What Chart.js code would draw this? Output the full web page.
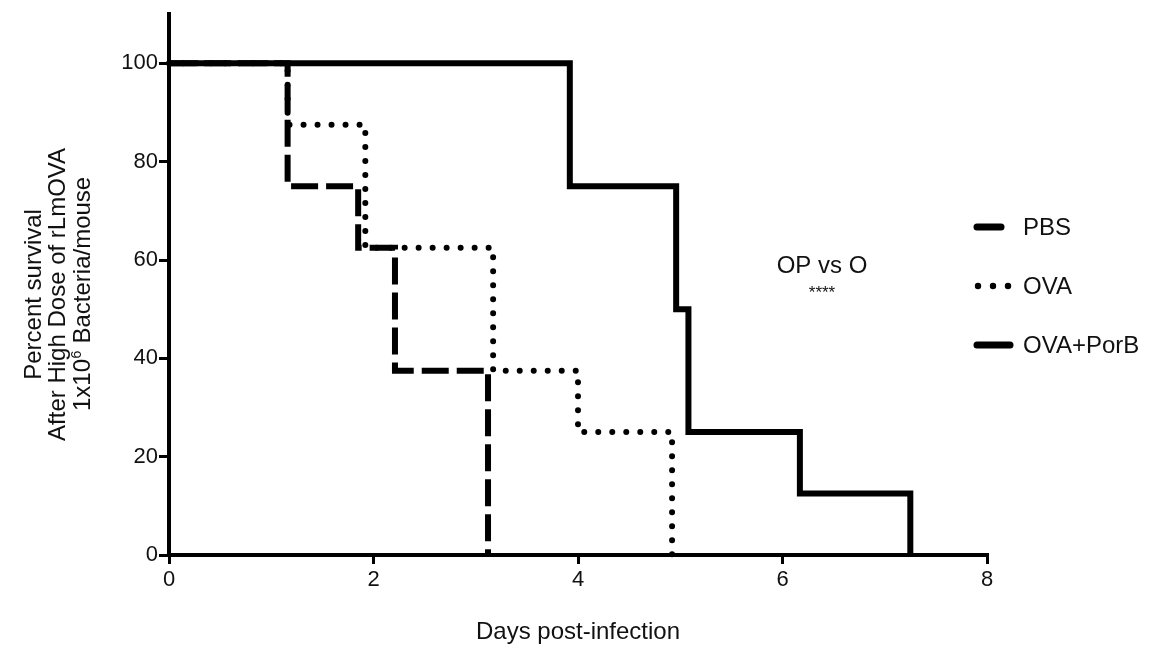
<!DOCTYPE html>
<html>
<head>
<meta charset="utf-8">
<script src="https://cdn.jsdelivr.net/npm/chart.js@4/dist/chart.umd.min.js"></script>
<style>
html,body{margin:0;padding:0;background:#fff;}
#c{display:block;}
</style>
</head>
<body>
<canvas id="c" width="1157" height="648"></canvas>
<script>
// ---- data ----
const seriesNames = ['PBS', 'OVA', 'OVA+PorB'];
const pbsDays  = [0, 1.16, 1.85, 2.21, 3.12];
const pbsSurv  = [100, 75, 62.5, 37.5, 0];
const ovaDays  = [0, 1.16, 1.92, 3.17, 4.0, 4.92];
const ovaSurv  = [100, 87.5, 62.5, 37.5, 25, 0];
const porbDays = [0, 3.92, 4.96, 5.08, 6.17, 7.25];
const porbSurv = [100, 75, 50, 25, 12.5, 0];
const xTicks = [0, 2, 4, 6, 8];
const yTicks = [0, 20, 40, 60, 80, 100];
const yTitleLines = ['Percent survival', 'After High Dose of rLmOVA'];
const yTitleLast = ['1x10', '6', ' Bacteria/mouse'];
const xTitle = 'Days post-infection';
const noteLines = ['OP vs O', '****'];

const FONT = '"Liberation Sans", Arial, Helvetica, sans-serif';
const INK = '#111';

function pts(xs, ys) { return xs.map((x, i) => ({x: x, y: ys[i]})); }

const overlay = {
  id: 'overlay',
  afterDraw(chart) {
    const ctx = chart.ctx;
    const ys = chart.scales.y;
    ctx.save();
    ctx.fillStyle = INK;
    // y-axis title (3 rotated lines)
    const cy = ys.getPixelForValue(53);
    const lineX = [34, 58, 83];
    ctx.font = '24px ' + FONT;
    ctx.textBaseline = 'middle';
    yTitleLines.forEach((t, i) => {
      ctx.save();
      ctx.translate(lineX[i], cy);
      ctx.rotate(-Math.PI / 2);
      ctx.textAlign = 'center';
      ctx.fillText(t, 0, 0);
      ctx.restore();
    });
    // last line with superscript
    ctx.save();
    ctx.translate(lineX[2], cy);
    ctx.rotate(-Math.PI / 2);
    ctx.textAlign = 'left';
    ctx.font = '24px ' + FONT;
    const w0 = ctx.measureText(yTitleLast[0]).width;
    const w2 = ctx.measureText(yTitleLast[2]).width;
    ctx.font = '14px ' + FONT;
    const w1 = ctx.measureText(yTitleLast[1]).width;
    const sx = -(w0 + w1 + w2) / 2;
    ctx.font = '24px ' + FONT;
    ctx.fillText(yTitleLast[0], sx, 0);
    ctx.font = '14px ' + FONT;
    ctx.fillText(yTitleLast[1], sx + w0 + 0.5, -6);
    ctx.font = '24px ' + FONT;
    ctx.fillText(yTitleLast[2], sx + w0 + w1 + 1, 0);
    ctx.restore();

    // annotation
    ctx.textAlign = 'center';
    ctx.font = '24px ' + FONT;
    ctx.fillText(noteLines[0], 822, 266);
    ctx.font = '17px ' + FONT;
    ctx.fillText(noteLines[1], 822, 293);

    // legend
    const ly = [227, 286, 345];
    ctx.strokeStyle = '#000';
    ctx.lineCap = 'round';
    ctx.lineWidth = 7;
    ctx.beginPath(); ctx.moveTo(977, ly[0]); ctx.lineTo(1001, ly[0]); ctx.stroke();
    ctx.fillStyle = '#000';
    [978, 993, 1008].forEach(x => { ctx.beginPath(); ctx.arc(x, ly[1], 3.2, 0, Math.PI * 2); ctx.fill(); });
    ctx.beginPath(); ctx.moveTo(977, ly[2]); ctx.lineTo(1010, ly[2]); ctx.stroke();
    ctx.fillStyle = INK;
    ctx.textAlign = 'left';
    ctx.font = '24px ' + FONT;
    seriesNames.forEach((n, i) => ctx.fillText(n, 1023, ly[i] + 1));
    ctx.restore();
  }
};

new Chart(document.getElementById('c'), {
  type: 'line',
  data: {
    datasets: [
      { label: seriesNames[0], data: pts(pbsDays, pbsSurv), stepped: 'before',
        borderColor: '#000', borderWidth: 6, borderDash: [27, 8], borderCapStyle: 'butt',
        pointRadius: 0, fill: false, order: 3 },
      { label: seriesNames[1], data: pts(ovaDays, ovaSurv), stepped: 'before',
        borderColor: '#000', borderWidth: 6, borderDash: [0, 14], borderCapStyle: 'round',
        pointRadius: 0, fill: false, order: 2 },
      { label: seriesNames[2], data: pts(porbDays, porbSurv), stepped: 'before',
        borderColor: '#000', borderWidth: 6, borderCapStyle: 'butt', borderJoinStyle: 'miter',
        pointRadius: 0, fill: false, order: 1 }
    ]
  },
  options: {
    responsive: false,
    animation: false,
    devicePixelRatio: 1,
    clip: false,
    layout: { padding: { left: 0, right: 170, top: 9, bottom: 0 } },
    plugins: { legend: { display: false }, tooltip: { enabled: false } },
    scales: {
      x: {
        type: 'linear', min: 0, max: 8,
        afterBuildTicks: s => { s.ticks = xTicks.map(v => ({value: v})); },
        afterFit: s => { s.height = 93; },
        grid: { drawOnChartArea: false, drawTicks: true, tickLength: 9, lineWidth: 3, color: '#000' },
        border: { display: true, width: 4, color: '#000' },
        ticks: { color: INK, font: { size: 22, family: FONT }, padding: 3, maxRotation: 0 },
        title: { display: true, text: xTitle, color: INK, font: { size: 24, family: FONT }, padding: { top: 0, bottom: 1 } }
      },
      y: {
        type: 'linear', min: 0, max: 110,
        afterBuildTicks: s => { s.ticks = yTicks.map(v => ({value: v})); },
        afterFit: s => { s.width = 169; },
        grid: { drawOnChartArea: false, drawTicks: true, tickLength: 10, lineWidth: 3, color: '#000' },
        border: { display: true, width: 4, color: '#000' },
        ticks: { color: INK, font: { size: 22, family: FONT }, padding: 1 },
        title: { display: false }
      }
    }
  },
  plugins: [overlay]
});
</script>
</body>
</html>
